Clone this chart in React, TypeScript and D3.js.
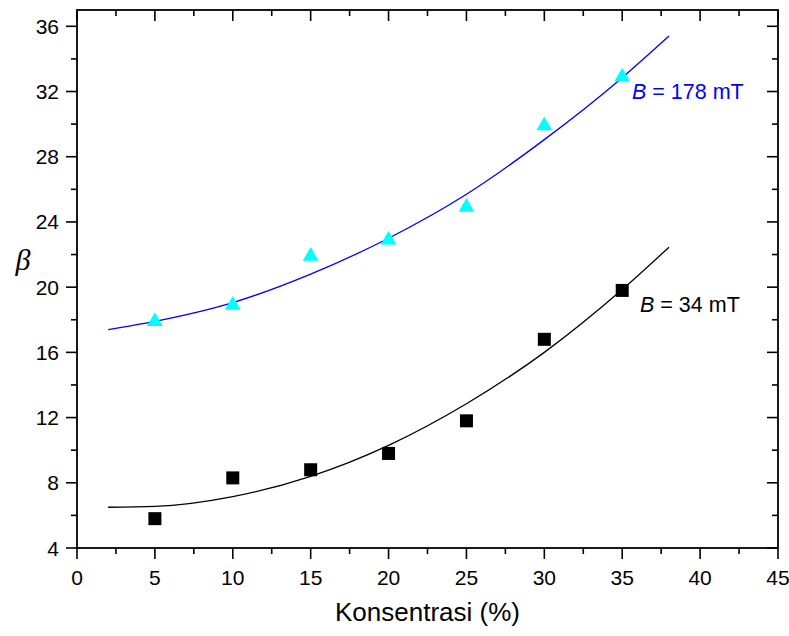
import React, { useEffect, useRef } from "react";
import * as d3 from "d3";

// measured points
const konsentrasi = [5, 10, 15, 20, 25, 30, 35];
const beta178 = [17.9, 18.9, 21.9, 22.9, 24.9, 29.9, 32.9];
const beta34 = [5.8, 8.3, 8.8, 9.8, 11.8, 16.8, 19.8];

// fitted curves
const fitX = [2, 5, 10, 15, 20, 25, 30, 35, 38];
const fit178 = [17.4, 17.9, 19.05, 20.8, 23.0, 25.7, 29.05, 32.85, 35.4];
const fit34 = [6.5, 6.55, 7.15, 8.4, 10.3, 12.85, 16.0, 19.85, 22.45];

const xTicks = [0, 5, 10, 15, 20, 25, 30, 35, 40, 45];
const xMinor = [2.5, 7.5, 12.5, 17.5, 22.5, 27.5, 32.5, 37.5, 42.5];
const yTicks = [4, 8, 12, 16, 20, 24, 28, 32, 36];
const yMinor = [6, 10, 14, 18, 22, 26, 30, 34];

const W = 789;
const H = 636;
const margin = { left: 77, right: 11, top: 10, bottom: 88 };

const App = () => {
  const ref = useRef<SVGSVGElement>(null);

  useEffect(() => {
    const svg = d3.select(ref.current);
    svg.selectAll("*").remove();

    const x = d3
      .scaleLinear()
      .domain([0, 45])
      .range([margin.left, W - margin.right]);
    const y = d3
      .scaleLinear()
      .domain([4, 37])
      .range([H - margin.bottom, margin.top]);

    const x0 = x.range()[0];
    const x1 = x.range()[1];
    const y0 = y.range()[0];
    const y1 = y.range()[1];
    const font = "Arial, 'Liberation Sans', sans-serif";

    const g = svg.append("g");

    // ticks: outward on left/bottom, inward on top/right
    const tick = (vals: number[], len: number) => {
      vals.forEach((v) => {
        g.append("line")
          .attr("x1", x(v)).attr("x2", x(v))
          .attr("y1", y0).attr("y2", y0 + len)
          .attr("stroke", "#000").attr("stroke-width", 1.6);
        g.append("line")
          .attr("x1", x(v)).attr("x2", x(v))
          .attr("y1", y1).attr("y2", y1 + len)
          .attr("stroke", "#000").attr("stroke-width", 1.6);
      });
    };
    const tickY = (vals: number[], len: number) => {
      vals.forEach((v) => {
        g.append("line")
          .attr("x1", x0 - len).attr("x2", x0)
          .attr("y1", y(v)).attr("y2", y(v))
          .attr("stroke", "#000").attr("stroke-width", 1.6);
        g.append("line")
          .attr("x1", x1 - len).attr("x2", x1)
          .attr("y1", y(v)).attr("y2", y(v))
          .attr("stroke", "#000").attr("stroke-width", 1.6);
      });
    };
    tick(xTicks, 11);
    tick(xMinor, 6);
    tickY(yTicks, 11);
    tickY(yMinor, 6);

    g.append("rect")
      .attr("x", x0).attr("y", y1)
      .attr("width", x1 - x0).attr("height", y0 - y1)
      .attr("fill", "none").attr("stroke", "#000").attr("stroke-width", 1.8);

    g.selectAll(".xl")
      .data(xTicks)
      .join("text")
      .attr("x", (d) => x(d))
      .attr("y", y0 + 37)
      .attr("text-anchor", "middle")
      .attr("font-family", font)
      .attr("font-size", 21)
      .text((d) => d);

    g.selectAll(".yl")
      .data(yTicks)
      .join("text")
      .attr("x", x0 - 18)
      .attr("y", (d) => y(d))
      .attr("dy", "0.36em")
      .attr("text-anchor", "end")
      .attr("font-family", font)
      .attr("font-size", 21)
      .text((d) => d);

    g.append("text")
      .attr("x", (x0 + x1) / 2)
      .attr("y", 621)
      .attr("text-anchor", "middle")
      .attr("font-family", font)
      .attr("font-size", 26)
      .text("Konsentrasi (%)");

    g.append("text")
      .attr("x", 23)
      .attr("y", 270)
      .attr("text-anchor", "middle")
      .attr("font-family", "'Liberation Serif', 'Times New Roman', serif")
      .attr("font-style", "italic")
      .attr("font-size", 30)
      .text("β");

    const line = d3
      .line<number>()
      .x((_, i) => x(fitX[i]))
      .y((d) => y(d))
      .curve(d3.curveMonotoneX);

    g.append("path")
      .attr("d", line(fit178))
      .attr("fill", "none")
      .attr("stroke", "#0000ff")
      .attr("stroke-width", 1.3);
    g.append("path")
      .attr("d", line(fit34))
      .attr("fill", "none")
      .attr("stroke", "#000")
      .attr("stroke-width", 1.3);

    const tri = d3.symbol().type(d3.symbolTriangle).size(110);
    g.selectAll(".tri")
      .data(beta178)
      .join("path")
      .attr("d", tri)
      .attr("transform", (d, i) => `translate(${x(konsentrasi[i])},${y(d)})`)
      .attr("fill", "#00ffff");

    g.selectAll(".sq")
      .data(beta34)
      .join("rect")
      .attr("x", (_, i) => x(konsentrasi[i]) - 6.5)
      .attr("y", (d) => y(d) - 6.5)
      .attr("width", 13)
      .attr("height", 13)
      .attr("fill", "#000");

    const label = (tx: number, ty: number, val: string, color: string) => {
      const t = g.append("text")
        .attr("x", tx)
        .attr("y", ty)
        .attr("font-family", font)
        .attr("font-size", 21.5)
        .attr("fill", color);
      t.append("tspan").attr("font-style", "italic").text("B");
      t.append("tspan").text(` = ${val} mT`);
    };
    label(632, 98.5, "178", "#0000ff");
    label(640, 311.5, "34", "#000");
  }, []);

  return (
    <svg
      ref={ref}
      width={W}
      height={H}
      style={{ position: "absolute", left: 0, top: 0, background: "#fff" }}
    />
  );
};

export default App;
